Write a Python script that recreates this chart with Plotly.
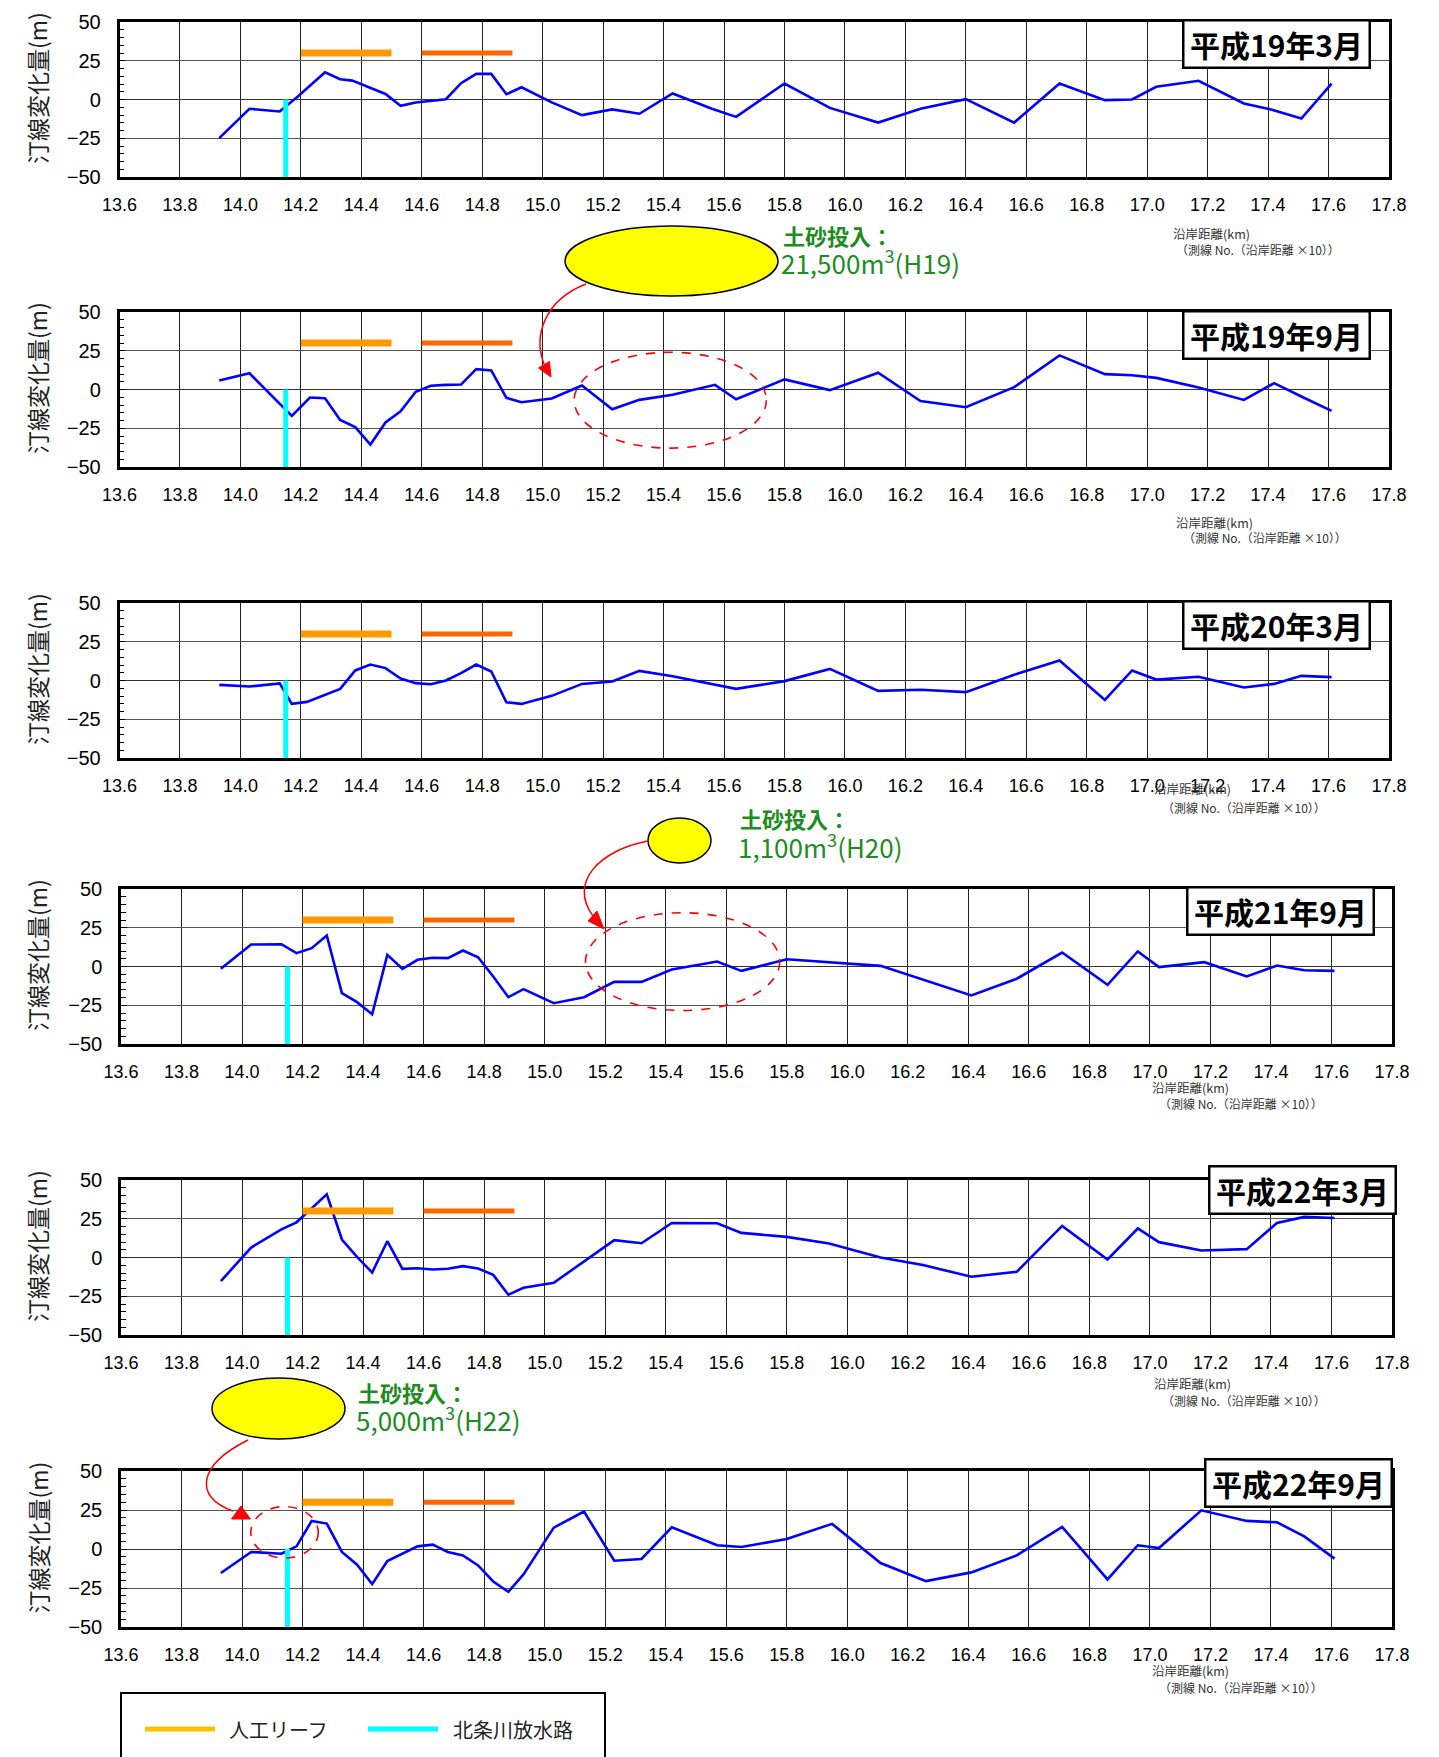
import plotly.graph_objects as go

# page body has an 8px default margin: build the figure 8px smaller and shift coordinates
OFF = 8
W, H = 1439 - OFF, 1757 - OFF

# ---------------- data ----------------
panel_titles = ["平成19年3月", "平成19年9月", "平成20年3月", "平成21年9月", "平成22年3月", "平成22年9月"]

x_h19_03 = [13.93, 14.03, 14.13, 14.19, 14.28, 14.33, 14.37, 14.43, 14.48, 14.53, 14.58, 14.68, 14.73, 14.78,
            14.83, 14.88, 14.93, 15.03, 15.13, 15.23, 15.32, 15.43, 15.56, 15.64, 15.80, 15.95, 16.11, 16.25,
            16.40, 16.56, 16.71, 16.86, 16.95, 17.03, 17.17, 17.32, 17.41, 17.51, 17.61]
y_h19_03 = [-24.9, -6.0, -7.7, 1.9, 17.6, 13.1, 12.2, 7.3, 3.6, -4.1, -1.9, 0.2, 10.5, 16.5,
            16.5, 3.4, 7.9, -1.9, -10.1, -6.4, -9.2, 3.9, -6.0, -11.2, 10.3, -5.4, -14.9, -6.0,
            0.2, -14.9, 10.3, -0.4, 0.0, 8.2, 12.1, -2.6, -6.5, -12.3, 10.3]

x_h19_09 = [13.93, 14.03, 14.17, 14.23, 14.28, 14.33, 14.38, 14.43, 14.48, 14.53, 14.58, 14.63, 14.68, 14.73,
            14.78, 14.83, 14.88, 14.93, 15.03, 15.13, 15.23, 15.32, 15.43, 15.57, 15.64, 15.80, 15.95, 16.11,
            16.25, 16.40, 16.56, 16.71, 16.86, 16.95, 17.03, 17.17, 17.32, 17.42, 17.51, 17.61]
y_h19_09 = [5.8, 10.5, -17.0, -5.2, -5.6, -19.6, -24.3, -35.5, -21.3, -14.0, -1.5, 2.4, 3.0, 3.2,
            13.1, 12.3, -5.4, -8.2, -5.8, 2.6, -12.7, -6.7, -3.4, 3.0, -6.3, 6.5, -0.4, 10.8,
            -7.5, -11.4, 1.5, 22.0, 9.9, 9.2, 7.5, 1.3, -6.7, 4.1, -4.5, -13.8]

x_h20_03 = [13.93, 14.03, 14.13, 14.17, 14.22, 14.33, 14.38, 14.43, 14.48, 14.53, 14.58, 14.63, 14.68, 14.73,
            14.78, 14.83, 14.88, 14.93, 15.03, 15.13, 15.23, 15.32, 15.43, 15.64, 15.80, 15.95, 16.11, 16.25,
            16.40, 16.56, 16.71, 16.86, 16.95, 17.03, 17.17, 17.32, 17.42, 17.51, 17.61]
y_h20_03 = [-2.8, -3.9, -1.9, -15.1, -13.8, -5.4, 6.5, 10.3, 8.0, 1.3, -1.7, -2.4, 0.0, 4.7,
            10.3, 5.8, -14.0, -15.1, -9.9, -2.2, -0.6, 6.2, 2.8, -5.4, -0.4, 7.5, -6.7, -6.0,
            -7.5, 3.7, 12.9, -12.5, 6.5, 0.6, 2.4, -4.5, -2.2, 3.0, 2.2]

x_h21_09 = [13.93, 14.03, 14.13, 14.18, 14.23, 14.28, 14.33, 14.38, 14.43, 14.48, 14.53, 14.58, 14.63, 14.68,
            14.73, 14.78, 14.83, 14.88, 14.93, 15.03, 15.13, 15.23, 15.32, 15.42, 15.57, 15.65, 15.80, 16.11,
            16.41, 16.56, 16.71, 16.86, 16.96, 17.03, 17.18, 17.32, 17.42, 17.51, 17.61]
y_h21_09 = [-1.5, 14.2, 14.4, 8.6, 11.8, 20.0, -17.2, -23.0, -30.8, 7.5, -1.5, 4.3, 5.6, 5.4,
            10.3, 6.0, -6.5, -19.8, -14.6, -23.7, -19.8, -9.9, -9.9, -1.9, 3.2, -2.8, 4.7, 0.4,
            -18.7, -7.9, 9.0, -11.8, 9.7, -0.4, 2.8, -6.4, 0.6, -2.4, -2.8]

x_h22_03 = [13.93, 14.03, 14.13, 14.18, 14.28, 14.33, 14.38, 14.43, 14.48, 14.53, 14.58, 14.63, 14.68, 14.73,
            14.78, 14.83, 14.88, 14.93, 15.03, 15.23, 15.32, 15.42, 15.57, 15.65, 15.80, 15.94, 16.11, 16.25,
            16.41, 16.56, 16.71, 16.86, 16.96, 17.03, 17.17, 17.32, 17.42, 17.51, 17.61]
y_h22_03 = [-15.2, 6.4, 18.2, 22.7, 40.8, 11.6, 0.4, -9.7, 10.5, -7.3, -6.9, -7.7, -7.3, -5.6,
            -7.1, -11.2, -24.0, -19.5, -16.3, 11.2, 9.2, 22.3, 22.1, 15.9, 13.3, 9.0, 0.0, -4.9,
            -12.4, -9.2, 20.4, -1.3, 18.7, 9.9, 4.5, 5.4, 22.3, 26.2, 25.5]

x_h22_09 = [13.93, 14.03, 14.13, 14.18, 14.23, 14.28, 14.33, 14.38, 14.43, 14.48, 14.58, 14.63, 14.68, 14.73,
            14.78, 14.83, 14.88, 14.93, 15.03, 15.13, 15.23, 15.32, 15.42, 15.57, 15.65, 15.80, 15.95, 16.11,
            16.26, 16.41, 16.56, 16.71, 16.86, 16.96, 17.03, 17.17, 17.32, 17.42, 17.51, 17.61]
y_h22_09 = [-15.4, -1.9, -3.0, 1.7, 18.0, 16.3, -1.9, -10.1, -22.5, -7.7, 1.7, 2.8, -1.9, -4.1,
            -10.5, -20.8, -27.4, -16.3, 13.7, 24.0, -7.5, -6.4, 13.9, 2.4, 1.3, 6.4, 16.1, -9.0,
            -20.6, -15.0, -4.1, 14.1, -19.5, 2.4, 0.6, 24.8, 18.0, 17.1, 8.1, -6.2]

series_x = [x_h19_03, x_h19_09, x_h20_03, x_h21_09, x_h22_03, x_h22_09]
series_y = [y_h19_03, y_h19_09, y_h20_03, y_h21_09, y_h22_03, y_h22_09]

reef1_x = [14.2, 14.5]
reef2_x = [14.6, 14.9]
reef_y = 30
outlet_x = 14.15
outlet_y = [0, -50]

x_range = [13.6, 17.8]
y_range = [-50, 50]

sand_labels = ["21,500m<sup>3</sup>(H19)", "1,100m<sup>3</sup>(H20)", "5,000m<sup>3</sup>(H22)"]

# ---------------- layout helpers (page pixel -> paper) ----------------
def fx(p):
    return (p - OFF) / W

def fy(p):
    return 1 - (p - OFF) / H

# plot-area pixel boxes (left, right, top, bottom) in page pixels
boxes = [(119.5, 1389, 22, 177), (119.5, 1389, 312, 467), (119.5, 1389, 603, 758),
         (121, 1392, 889, 1044), (121, 1392, 1180, 1335), (121, 1392, 1471, 1627)]
title_boxes = [(1276, 44.5), (1276, 335.3), (1276, 625.3), (1280, 911), (1302.5, 1189.7), (1298.5, 1483.3)]
km_labels = [((1171, 233), (1174, 250)), ((1173.6, 522), (1180.7, 538)), ((1152, 788), (1159.5, 807)),
             ((1150, 1087), (1157, 1103)), ((1151.5, 1383), (1159.5, 1400)), ((1150, 1670), (1157, 1687))]

JP = "Noto Sans CJK JP"
fig = go.Figure()
shapes = []
annotations = []
layout_axes = {}

for i in range(6):
    n = i + 1
    xs = "" if n == 1 else str(n)
    xref, yref = "x" + xs, "y" + xs
    l, r, t, b = boxes[i]
    layout_axes["xaxis" + xs] = dict(
        domain=[fx(l), fx(r)], anchor=yref, range=x_range, dtick=0.2, tick0=13.6,
        tickformat=".1f", showgrid=True, gridcolor="#222", gridwidth=1,
        showline=True, mirror=True, linecolor="black", linewidth=2.5,
        ticks="", ticklabelstandoff=10, automargin=False,
        tickfont=dict(family="Liberation Sans", size=18, color="black"),
        zeroline=False, fixedrange=True)
    layout_axes["yaxis" + xs] = dict(
        domain=[fy(b), fy(t)], anchor=xref, range=y_range, dtick=25, tick0=0,
        showgrid=True, gridcolor="#555", gridwidth=1.2,
        zeroline=True, zerolinecolor="#333", zerolinewidth=1.2,
        showline=True, mirror=True, linecolor="black", linewidth=2.5,
        ticks="inside", ticklen=6, tickcolor="black", ticklabelstandoff=12, automargin=False,
        minor=dict(dtick=5, ticks="inside", ticklen=5, tickcolor="black", showgrid=False),
        tickfont=dict(family="Liberation Sans", size=20, color="black"),
        fixedrange=True)

    # shoreline change
    fig.add_trace(go.Scatter(x=series_x[i], y=series_y[i], mode="lines",
                             line=dict(color="#0000FF", width=2.6),
                             xaxis=xref, yaxis=yref, showlegend=False, hoverinfo="x+y"))
    # outlet
    fig.add_trace(go.Scatter(x=[outlet_x, outlet_x], y=outlet_y, mode="lines",
                             line=dict(color="#00FFFF", width=5),
                             xaxis=xref, yaxis=yref, showlegend=False))
    # reefs
    fig.add_trace(go.Scatter(x=reef1_x, y=[reef_y, reef_y], mode="lines",
                             line=dict(color="#FF9900", width=7),
                             xaxis=xref, yaxis=yref, showlegend=False))
    fig.add_trace(go.Scatter(x=reef2_x, y=[reef_y, reef_y], mode="lines",
                             line=dict(color="#FF6600", width=5),
                             xaxis=xref, yaxis=yref, showlegend=False))

    # y-axis title
    annotations.append(dict(text="汀線変化量(m)", textangle=-90, xref="paper", yref="paper",
                            x=fx(37), y=fy((t + b) / 2 - 11.5), xanchor="center", yanchor="middle",
                            showarrow=False, font=dict(family=JP, size=23, color="#222")))
    # panel title box
    cx, cy = title_boxes[i]
    annotations.append(dict(text="<b>" + panel_titles[i] + "</b>", xref="paper", yref="paper",
                            x=fx(cx), y=fy(cy), xanchor="center", yanchor="middle", showarrow=False,
                            width=184, height=45, borderpad=0, bgcolor="white",
                            bordercolor="black", borderwidth=2.5,
                            font=dict(family=JP, size=30, color="black")))
    # km labels
    (ax1, ay1), (ax2, ay2) = km_labels[i]
    annotations.append(dict(text="沿岸距離(km)", xref="paper", yref="paper", x=fx(ax1), y=fy(ay1),
                            xanchor="left", yanchor="middle", showarrow=False,
                            font=dict(family=JP, size=12.5, color="#333")))
    annotations.append(dict(text="（測線 No.（沿岸距離 ×10））", xref="paper", yref="paper", x=fx(ax2), y=fy(ay2),
                            xanchor="left", yanchor="middle", showarrow=False,
                            font=dict(family=JP, size=12, color="#333")))

# red dashed ellipses (data coords)
shapes.append(dict(type="circle", xref="x2", yref="y2", x0=15.104, x1=15.74, y0=-37.8, y1=24.0,
                   line=dict(color="#FF0000", width=1.6, dash="dash")))
shapes.append(dict(type="circle", xref="x4", yref="y4", x0=15.135, x1=15.777, y0=-28.4, y1=34.7,
                   line=dict(color="#FF0000", width=1.6, dash="dash")))
shapes.append(dict(type="circle", xref="x6", yref="y6", x0=14.029, x1=14.252, y0=-5.8, y1=27.2,
                   line=dict(color="#FF0000", width=1.6, dash="dash")))

# yellow ellipses (paper coords)
for (x0, x1, y0, y1) in [(565, 778, 226, 296), (648, 711, 818, 863), (212, 345, 1378, 1439)]:
    shapes.append(dict(type="circle", xref="paper", yref="paper", x0=fx(x0), x1=fx(x1), y0=fy(y1), y1=fy(y0),
                       fillcolor="#FFFF00", line=dict(color="black", width=1.5)))

def ppath(cmds):
    out = []
    for c in cmds:
        if isinstance(c, str):
            out.append(c)
        else:
            out.append(f"{fx(c[0]):.5f},{fy(c[1]):.5f}")
    return " ".join(out)

# curved red arrows
curves = [
    ["M", (586, 284), "C", (545, 300), (533, 335), (544, 364)],
    ["M", (648, 841), "C", (600, 850), (568, 882), (593, 916)],
    ["M", (248, 1440), "C", (198, 1465), (193, 1497), (233, 1511)],
]
for c in curves:
    shapes.append(dict(type="path", xref="paper", yref="paper", path=ppath(c),
                       line=dict(color="#FF0000", width=1.5)))
heads = [
    ["M", (551, 377), "L", (538.5, 368), "L", (549.5, 361.5), "Z"],
    ["M", (604, 929), "L", (588, 921), "L", (597, 911), "Z"],
    ["M", (241, 1506), "L", (250.5, 1519), "L", (231.5, 1519), "Z"],
]
for h in heads:
    shapes.append(dict(type="path", xref="paper", yref="paper", path=ppath(h),
                       fillcolor="#FF0000", line=dict(color="#FF0000", width=1)))

# green sand-input text
green = "#1E8C1E"
for (lx, y1, y2), lab in zip([(781, 235, 262), (738, 818, 845), (356, 1392, 1418)], sand_labels):
    annotations.append(dict(text="<b>土砂投入：</b>", xref="paper", yref="paper", x=fx(lx), y=fy(y1),
                            xanchor="left", yanchor="middle", showarrow=False,
                            font=dict(family=JP, size=22, color=green)))
    annotations.append(dict(text=lab, xref="paper", yref="paper", x=fx(lx - 2), y=fy(y2),
                            xanchor="left", yanchor="middle", showarrow=False,
                            font=dict(family=JP, size=26, color=green)))

# legend box
shapes.append(dict(type="rect", xref="paper", yref="paper", x0=fx(121), x1=fx(605), y0=fy(1765), y1=fy(1693),
                   line=dict(color="black", width=2), fillcolor="white"))
shapes.append(dict(type="line", xref="paper", yref="paper", x0=fx(145), x1=fx(215), y0=fy(1729), y1=fy(1729),
                   line=dict(color="#FFC000", width=5)))
shapes.append(dict(type="line", xref="paper", yref="paper", x0=fx(368), x1=fx(438), y0=fy(1729), y1=fy(1729),
                   line=dict(color="#00FFFF", width=5)))
annotations.append(dict(text="人工リーフ", xref="paper", yref="paper", x=fx(227), y=fy(1729),
                        xanchor="left", yanchor="middle", showarrow=False,
                        font=dict(family=JP, size=20, color="#222")))
annotations.append(dict(text="北条川放水路", xref="paper", yref="paper", x=fx(451), y=fy(1729),
                        xanchor="left", yanchor="middle", showarrow=False,
                        font=dict(family=JP, size=20, color="#222")))

fig.update_layout(
    template="none",
    width=W, height=H, margin=dict(l=0, r=0, t=0, b=0, pad=0, autoexpand=False),
    paper_bgcolor="white", plot_bgcolor="white", showlegend=False,
    shapes=shapes, annotations=annotations, **layout_axes)

fig.write_html("out.html")
